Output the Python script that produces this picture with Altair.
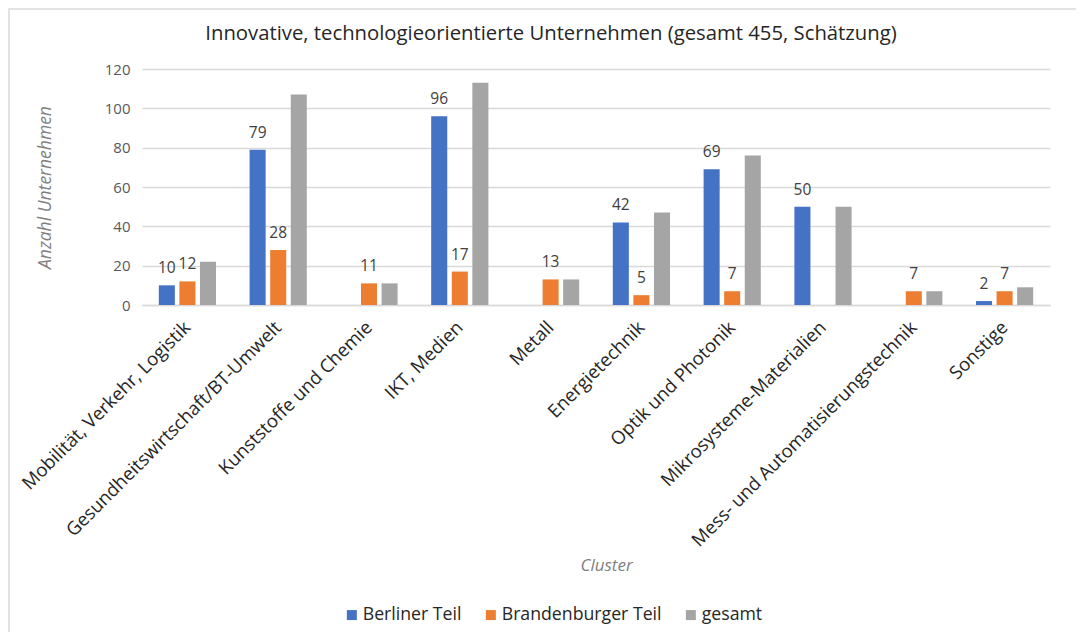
import altair as alt
import pandas as pd

title_text = "Innovative, technologieorientierte Unternehmen (gesamt 455, Schätzung)"
categories = [
    "Mobilität, Verkehr, Logistik",
    "Gesundheitswirtschaft/BT-Umwelt",
    "Kunststoffe und Chemie",
    "IKT, Medien",
    "Metall",
    "Energietechnik",
    "Optik und Photonik",
    "Mikrosysteme-Materialien",
    "Mess- und Automatisierungstechnik",
    "Sonstige",
]
series = ["Berliner Teil", "Brandenburger Teil", "gesamt"]
berliner = [10, 79, 0, 96, 0, 42, 69, 50, 0, 2]
brandenburger = [12, 28, 11, 17, 13, 5, 7, 0, 7, 7]
gesamt = [22, 107, 11, 113, 13, 47, 76, 50, 7, 9]
colors = ["#4472C4", "#ED7D31", "#A5A5A5"]
y_ticks = [0, 20, 40, 60, 80, 100, 120]

rows = []
for s, vals in zip(series, [berliner, brandenburger, gesamt]):
    for c, v in zip(categories, vals):
        rows.append({"Cluster": c, "Serie": s, "Anzahl": v})
df = pd.DataFrame(rows)

FONT = "Open Sans"

x_enc = alt.X(
    "Cluster:N",
    sort=categories,
    scale=alt.Scale(paddingInner=0.37, paddingOuter=0.185),
    axis=alt.Axis(
        title="Cluster",
        labelAngle=-45,
        labelAlign="right",
        labelBaseline="middle",
        labelFontSize=18.5,
        labelFont=FONT,
        labelColor="#262626",
        labelPadding=19,
        labelLimit=500,
        labelOverlap=False,
        ticks=False,
        domainColor="#D9D9D9",
        domainWidth=1.5,
        grid=False,
        titleFont=FONT,
        titleFontSize=17,
        titleFontStyle="italic",
        titleFontWeight="normal",
        titleColor="#7F7F7F",
        titleX=464,
        titleY=260,
        titleBaseline="middle",
    ),
)
xoff_enc = alt.XOffset(
    "Serie:N", sort=series, scale=alt.Scale(paddingInner=0.22, paddingOuter=0)
)
y_enc = alt.Y(
    "Anzahl:Q",
    scale=alt.Scale(domain=[0, 120]),
    axis=alt.Axis(
        title="Anzahl Unternehmen",
        values=y_ticks,
        domain=False,
        ticks=False,
        gridColor="#D9D9D9",
        gridWidth=1.5,
        labelFont=FONT,
        labelFontSize=15,
        labelColor="#595959",
        labelPadding=12,
        titleFont=FONT,
        titleFontSize=17.5,
        titleFontStyle="italic",
        titleFontWeight="normal",
        titleColor="#7F7F7F",
        titleX=-97,
        titleY=118,
        titleBaseline="middle",
    ),
)

base = alt.Chart(df)

bars = base.mark_bar().encode(
    x=x_enc,
    xOffset=xoff_enc,
    y=y_enc,
    color=alt.Color(
        "Serie:N",
        sort=series,
        scale=alt.Scale(domain=series, range=colors),
        legend=alt.Legend(
            title=None,
            orient="none",
            direction="horizontal",
            legendX=201,
            legendY=537,
            symbolType="square",
            symbolSize=100,
            symbolStrokeWidth=0,
            labelFont=FONT,
            labelFontSize=17.7,
            labelColor="#262626",
            labelOffset=2,
            columnPadding=20,
        ),
    ),
)

labels = (
    base.transform_filter("datum.Serie != 'gesamt' && datum.Anzahl > 0")
    .mark_text(baseline="alphabetic", dy=-12, fontSize=15.5, font=FONT, color="#404040")
    .encode(x=x_enc, xOffset=xoff_enc, y=y_enc, text="Anzahl:Q")
)

frame = (
    alt.Chart(alt.Data(values=[{"f": 1}]))
    .mark_rect(fill="transparent", stroke="#D9D9D9", strokeWidth=1.5)
    .encode(
        x=alt.value(-133),
        x2=alt.value(1000),
        y=alt.value(-60),
        y2=alt.value(700),
    )
)

title = (
    alt.Chart(alt.Data(values=[{"t": title_text}]))
    .mark_text(fontSize=20.3, font=FONT, color="#262626", align="center", baseline="alphabetic")
    .encode(text="t:N", x=alt.value(409), y=alt.value(-29))
)

chart = (
    alt.layer(frame, bars, labels, title)
    .properties(
        width=908,
        height=236,
        autosize=alt.AutoSizeParams(type="none"),
        padding={"left": 134, "top": 61, "right": 26, "bottom": 327},
    )
    .configure_view(strokeWidth=0)
)

chart.save("out.html", embed_options={"renderer": "svg", "actions": False})
